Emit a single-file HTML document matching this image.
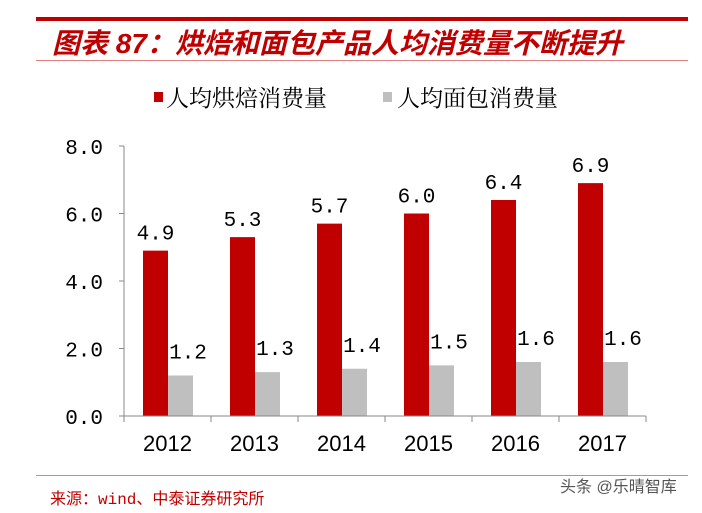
<!DOCTYPE html>
<html><head><meta charset="utf-8"><style>
body{margin:0;background:#fff;width:702px;height:508px;overflow:hidden;font-family:"Liberation Sans","Noto Sans CJK SC",sans-serif}
</style></head><body>
<svg width="702" height="508" xmlns="http://www.w3.org/2000/svg">
<rect x="36" y="17" width="652" height="4" fill="#c00000"/>
<text x="52" y="53" font-size="28" font-style="italic" font-weight="bold" fill="#c00000" font-family="Liberation Sans,Noto Sans CJK SC,sans-serif">图表 87：烘焙和面包产品人均消费量不断提升</text>
<rect x="36" y="60" width="652" height="1" fill="#e08080"/>
<g>
<rect x="154" y="92" width="9" height="10" fill="#c00000"/>
<text x="166" y="106" font-size="23" fill="#000" font-family="Noto Serif CJK SC,serif">人均烘焙消费量</text>
<rect x="383" y="92" width="9" height="10" fill="#bfbfbf"/>
<text x="397" y="106" font-size="23" fill="#000" font-family="Noto Serif CJK SC,serif">人均面包消费量</text>
</g>
<g id="plot"></g>
<rect x="36" y="475" width="652" height="1" fill="#e08080"/>
<text x="50" y="504" font-size="16" fill="#c00000" font-family="Liberation Mono,Noto Sans CJK SC,monospace">来源：wind、中泰证券研究所</text>
<text x="560" y="492" font-size="16" fill="#555">头条 @乐晴智库</text>
</svg>
<script>
const years=["2012","2013","2014","2015","2016","2017"];
const baking=[4.9,5.3,5.7,6.0,6.4,6.9];
const bread=[1.2,1.3,1.4,1.5,1.6,1.6];
const yTicks=[0,2,4,6,8];
const NS="http://www.w3.org/2000/svg";
const g=document.getElementById("plot");
const x0=124,x1=646,yBase=416,yTop=146,yMax=8;
const band=(x1-x0)/years.length;
const y=v=>yBase-(v/yMax)*(yBase-yTop);
function el(t,a,txt){const e=document.createElementNS(NS,t);for(const k in a)e.setAttribute(k,a[k]);if(txt!=null)e.textContent=txt;g.appendChild(e);return e;}
yTicks.forEach(t=>{
 const e=el("text",{x:103,y:y(t)+8,"font-size":21,"text-anchor":"end","font-family":"Liberation Mono,monospace"},t.toFixed(1));
 
 
 const l=el("line",{x1:119,x2:124,y1:y(t),y2:y(t),stroke:"#888"});
 
 
});
const ya=el("line",{x1:124,x2:124,y1:yTop,y2:yBase,stroke:"#888"});


years.forEach((yr,i)=>{
 const bx=x0+i*band+19,bw=25;
 const r1=el("rect",{x:bx,y:y(baking[i]),width:bw,height:yBase-y(baking[i]),fill:"#c00000"});
 
 
 const r2=el("rect",{x:bx+bw,y:y(bread[i]),width:bw,height:yBase-y(bread[i]),fill:"#bfbfbf"});
 
 
 const t1=el("text",{x:bx+bw/2,y:y(baking[i])-11,"font-size":21,"text-anchor":"middle","font-family":"Liberation Mono,monospace"},baking[i].toFixed(1));
 
 
 const t2=el("text",{x:bx+bw+20,y:y(bread[i])-17,"font-size":21,"text-anchor":"middle","font-family":"Liberation Mono,monospace"},bread[i].toFixed(1));
 
 
 const xl=el("text",{x:x0+i*band+band/2,y:451,"font-size":22,"text-anchor":"middle"},yr);
 
 
});
for(let i=0;i<=years.length;i++){
 const tk=el("line",{x1:x0+i*band,x2:x0+i*band,y1:yBase,y2:yBase+6,stroke:"#888"});
 
 
}
const xa=el("line",{x1:x0,x2:x1,y1:yBase,y2:yBase,stroke:"#888"});


</script>
</body></html>
